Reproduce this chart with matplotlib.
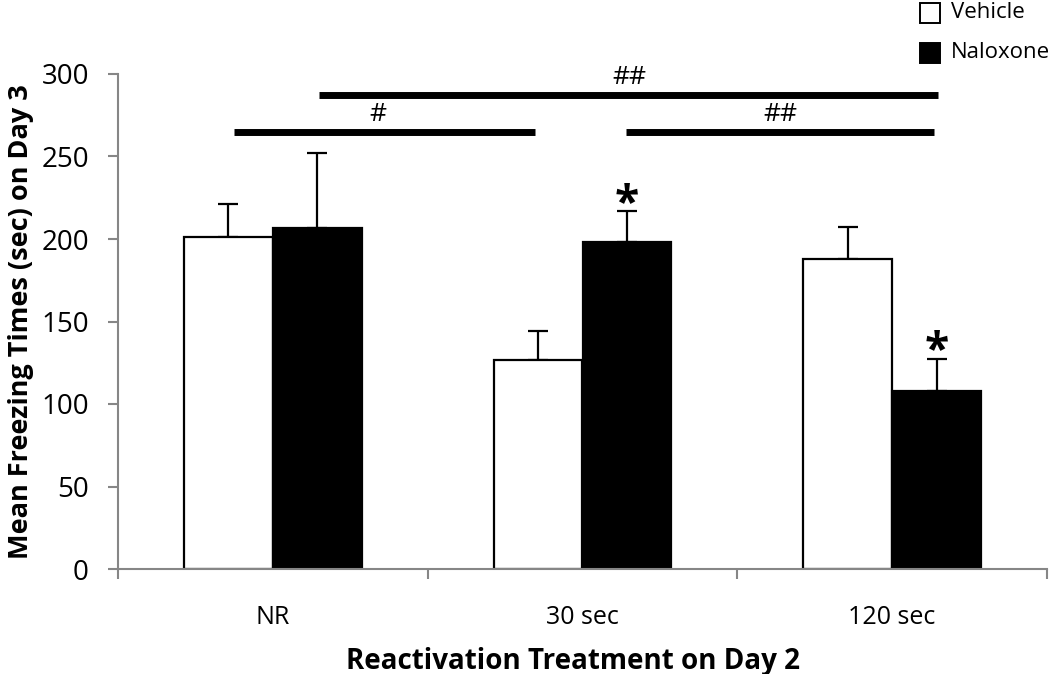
import matplotlib
matplotlib.use("Agg")
import matplotlib.pyplot as plt
import numpy as np

categories = ["NR", "30 sec", "120 sec"]
vehicle = [201, 126.5, 188]
vehicle_err = [20, 18, 19]
naloxone = [206.5, 198, 108]
naloxone_err = [45.5, 19, 19.5]
series_names = ["Vehicle", "Naloxone"]
yticks = [0, 50, 100, 150, 200, 250, 300]

plt.rcParams['font.family'] = ['Open Sans', 'DejaVu Sans']

fig = plt.figure(figsize=(10.5, 6.74), dpi=100)
ax = fig.add_axes([118/1050, 1-569/674, (1047-118)/1050, (569-74)/674])

x = np.arange(len(categories))
w = 0.287
gray = "#868686"

ax.bar(x - w/2, vehicle, w, color="white", edgecolor="black", linewidth=1.6, zorder=2)
ax.bar(x + w/2, naloxone, w, color="black", edgecolor="black", linewidth=1.6, zorder=2)
ax.errorbar(x - w/2, vehicle, yerr=[np.zeros(3), vehicle_err], fmt="none",
            ecolor="black", elinewidth=1.6, capsize=7, capthick=1.6, zorder=1)
ax.errorbar(x + w/2, naloxone, yerr=[np.zeros(3), naloxone_err], fmt="none",
            ecolor="black", elinewidth=1.6, capsize=7, capthick=1.6, zorder=1)

ax.set_xlim(-0.5, 2.5)
ax.set_ylim(0, 300)
ax.set_yticks(yticks)
ax.set_yticklabels([str(t) for t in yticks], fontsize=20)
ax.set_xticks([-0.5, 0.5, 1.5, 2.5])
ax.set_xticklabels([])
ax.set_xticks(x, minor=True)
ax.set_xticklabels(categories, minor=True, fontsize=18)
ax.tick_params(axis="x", which="minor", length=0, pad=26)
ax.tick_params(axis="x", which="major", length=7, width=1.5, color=gray, direction="out")
ax.tick_params(axis="y", length=7, width=1.5, color=gray, direction="out", pad=14)

for s in ["top", "right"]:
    ax.spines[s].set_visible(False)
for s in ["left", "bottom"]:
    ax.spines[s].set_color(gray)
    ax.spines[s].set_linewidth(1.5)

ax.set_ylabel("Mean Freezing Times (sec) on Day 3", fontsize=19.5, fontweight="bold")
ax.yaxis.set_label_coords(-0.104, 0.5)
ax.set_xlabel("Reactivation Treatment on Day 2", fontsize=20, fontweight="bold")
ax.xaxis.set_label_coords(0.49, -0.186)
ax.xaxis.label.set_va("center")
ax.yaxis.label.set_va("center")

# significance bars
sig_bars = [(-0.125, 0.846, 264.7, "#", 0.34, 275.5),
            (0.149, 2.148, 287.3, "##", 1.15, 298),
            (1.140, 2.135, 264.7, "##", 1.64, 275.5)]
for x0, x1, yy, lab, xt, yt in sig_bars:
    ax.plot([x0, x1], [yy, yy], color="black", linewidth=5, solid_capstyle="butt", clip_on=False)
    ax.text(xt, yt, lab, ha="center", va="center", fontsize=19)

# asterisks
ax.text(x[1] + w/2, 221, "*", ha="center", va="center", fontsize=32, fontweight="bold")
ax.text(x[2] + w/2, 132, "*", ha="center", va="center", fontsize=32, fontweight="bold")

# legend
fig.patches.append(plt.Rectangle((920/1050, 1-23/674), 20/1050, 20/674, transform=fig.transFigure,
                                 facecolor="white", edgecolor="black", linewidth=1.4))
fig.patches.append(plt.Rectangle((920/1050, 1-63/674), 20/1050, 20/674, transform=fig.transFigure,
                                 facecolor="black", edgecolor="black", linewidth=1.4))
fig.text(951/1050, 1-13/674, series_names[0], ha="left", va="center", fontsize=16)
fig.text(951/1050, 1-53/674, series_names[1], ha="left", va="center", fontsize=16)

fig.savefig("out.png", dpi=100)
